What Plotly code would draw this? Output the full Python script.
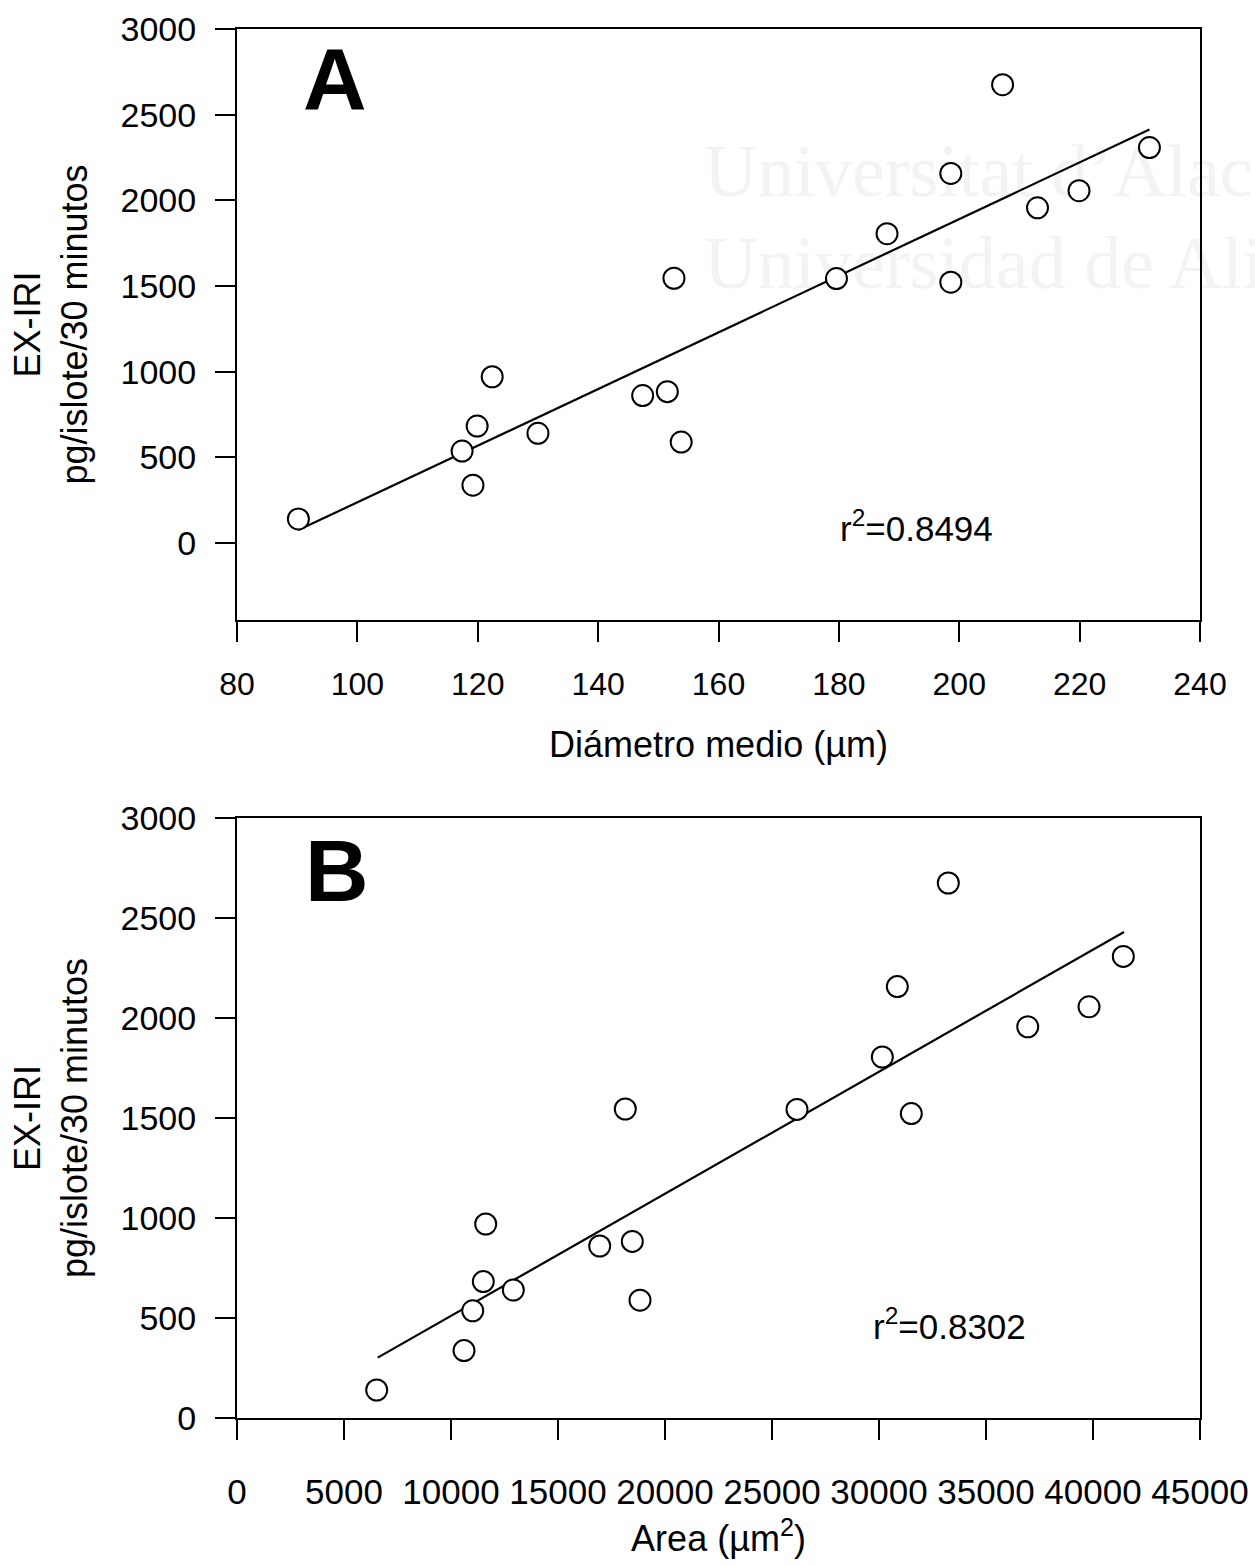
import plotly.graph_objects as go

# ---------------- data ----------------
diametro = [90.2, 119.2, 117.4, 119.9, 122.4, 130.0, 147.4, 151.5, 153.8, 152.6,
            179.6, 188.0, 198.6, 198.6, 207.2, 213.0, 219.9, 231.6]
area = [6528, 10608, 11015, 11510, 11622, 12912, 16949, 18472, 18832, 18145,
        26168, 30155, 31510, 30856, 33239, 36950, 39814, 41417]
exiri = [140, 337, 536, 682, 970, 640, 860, 883, 589, 1545,
         1543, 1805, 1522, 2157, 2675, 1956, 2056, 2308]

fit_a_x = [90.2, 231.6]
fit_a_y = [75, 2413]
fit_b_x = [6575, 41450]
fit_b_y = [302, 2430]

r2_a = "0.8494"
r2_b = "0.8302"

xticks_a = [80, 100, 120, 140, 160, 180, 200, 220, 240]
xticks_b = [0, 5000, 10000, 15000, 20000, 25000, 30000, 35000, 40000, 45000]
yticks = [0, 500, 1000, 1500, 2000, 2500, 3000]

# ---------------- figure ----------------
W, H = 1255, 1565
FONT = "Liberation Sans, Arial, sans-serif"

def px_x(p):
    return p / W

def px_y(p):
    return 1 - p / H

fig = go.Figure()

marker = dict(symbol="circle", size=21, color="white",
              line=dict(color="black", width=2))

fig.add_trace(go.Scatter(x=fit_a_x, y=fit_a_y, mode="lines",
                         line=dict(color="black", width=2.2),
                         xaxis="x", yaxis="y", showlegend=False))
fig.add_trace(go.Scatter(x=diametro, y=exiri, mode="markers", marker=marker,
                         xaxis="x", yaxis="y", showlegend=False))
fig.add_trace(go.Scatter(x=fit_b_x, y=fit_b_y, mode="lines",
                         line=dict(color="black", width=2.2),
                         xaxis="x2", yaxis="y2", showlegend=False))
fig.add_trace(go.Scatter(x=area, y=exiri, mode="markers", marker=marker,
                         xaxis="x2", yaxis="y2", showlegend=False))

axis_common = dict(showgrid=False, zeroline=False, showline=True, mirror=True,
                   linecolor="black", linewidth=2, ticks="outside", ticklen=20,
                   tickwidth=2, tickcolor="black", automargin=False)

xdom = [px_x(237), px_x(1200)]
ya_dom = [px_y(620), px_y(29)]
yb_dom = [px_y(1418), px_y(818)]

ytitle = "EX-IRI<br>pg/islote/30 minutos"
title_font = dict(family=FONT, size=36, color="black")

fig.update_layout(
    width=W, height=H,
    margin=dict(l=0, r=0, t=0, b=0),
    paper_bgcolor="white", plot_bgcolor="white",
    font=dict(family=FONT, color="black"),
    xaxis=dict(axis_common, domain=xdom, anchor="y", range=[80, 240],
               tickvals=xticks_a, ticktext=[str(v) for v in xticks_a],
               tickfont=dict(family=FONT, size=32, color="black"),
               ticklabelstandoff=15,
               title=dict(text="Diámetro medio (µm)", standoff=30, font=title_font)),
    yaxis=dict(axis_common, domain=ya_dom, anchor="x", range=[-450, 3000],
               tickvals=yticks, ticktext=[str(v) for v in yticks],
               tickfont=dict(family=FONT, size=34, color="black"),
               ticklabelstandoff=12,
               title=dict(text=ytitle, standoff=22, font=title_font)),
    xaxis2=dict(axis_common, domain=xdom, anchor="y2", range=[0, 45000],
                tickvals=xticks_b, ticktext=[str(v) for v in xticks_b],
                tickfont=dict(family=FONT, size=35, color="black"),
                ticklabelstandoff=22,
                title=dict(text="Area (µm<sup>2</sup>)", standoff=16, font=title_font)),
    yaxis2=dict(axis_common, domain=yb_dom, anchor="x2", range=[0, 3000],
                tickvals=yticks, ticktext=[str(v) for v in yticks],
                tickfont=dict(family=FONT, size=34, color="black"),
                ticklabelstandoff=12,
                title=dict(text=ytitle, standoff=22, font=title_font)),
)

# panel letters
fig.add_annotation(text="<b>A</b>", xref="paper", yref="paper",
                   x=px_x(335), y=px_y(78), xanchor="center", yanchor="middle",
                   showarrow=False, font=dict(family=FONT, size=88, color="black"))
fig.add_annotation(text="<b>B</b>", xref="paper", yref="paper",
                   x=px_x(337), y=px_y(870), xanchor="center", yanchor="middle",
                   showarrow=False, font=dict(family=FONT, size=88, color="black"))

# r^2 labels
fig.add_annotation(text="r<sup>2</sup>=" + r2_a, xref="paper", yref="paper",
                   x=px_x(838), y=px_y(526), xanchor="left", yanchor="middle",
                   showarrow=False, font=dict(family=FONT, size=35, color="black"))
fig.add_annotation(text="r<sup>2</sup>=" + r2_b, xref="paper", yref="paper",
                   x=px_x(871), y=px_y(1324), xanchor="left", yanchor="middle",
                   showarrow=False, font=dict(family=FONT, size=35, color="black"))

# faint scan watermark (cut at the right edge, as in the scan), drawn below the data
for txt, yc in [("Universitat d’Alacant", 163), ("Universidad de Alicante", 255)]:
    fig.add_shape(type="rect", xref="paper", yref="paper",
                  x0=px_x(698), x1=px_x(1600), y0=px_y(yc + 40), y1=px_y(yc - 40),
                  line=dict(width=0), fillcolor="rgba(0,0,0,0)", layer="below",
                  label=dict(text=txt, textposition="middle left",
                             font=dict(family="Liberation Serif, Times New Roman, serif",
                                       size=74, color="#f3f3f3")))

fig.write_html("out.html")
